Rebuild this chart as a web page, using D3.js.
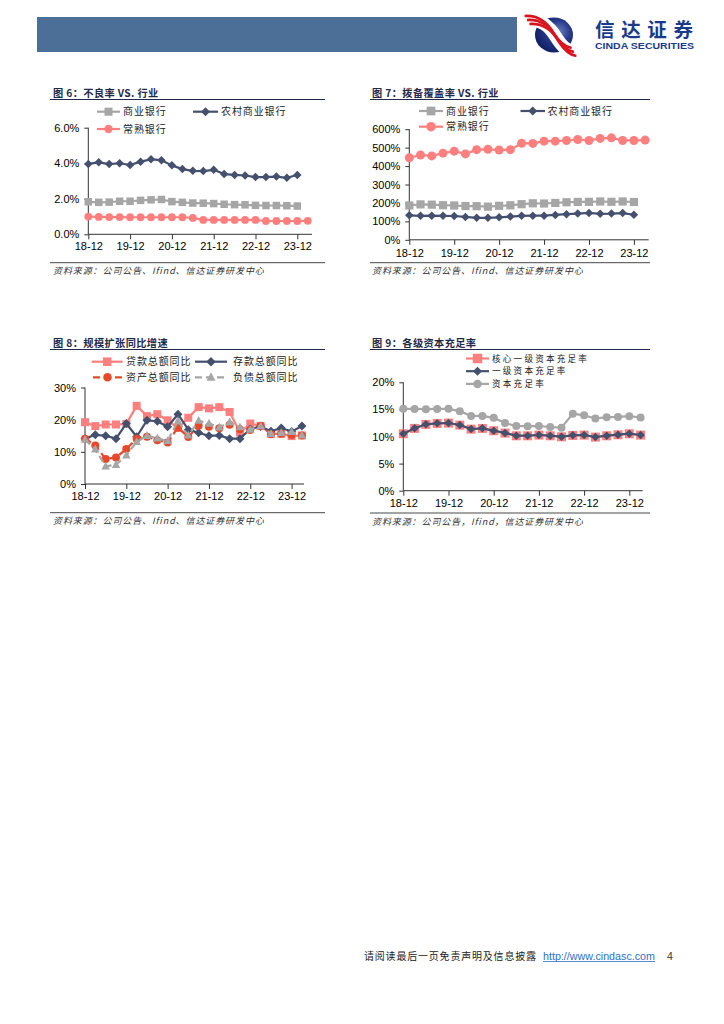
<!DOCTYPE html>
<html><head><meta charset="utf-8">
<script src="https://cdn.jsdelivr.net/npm/d3@7"></script>
<style>
body{margin:0;background:#fff;}
svg{display:block;}
.cjk{font-family:"Noto Sans CJK SC","Noto Sans",sans-serif;}
.num{font-family:"Liberation Sans",Arial,sans-serif;}
</style>
</head><body>
<svg id="c" width="724" height="1024"></svg>
<script>
// ---------------- DATA ----------------
const categories = ["18-12","19-03","19-06","19-09","19-12","20-03","20-06","20-09","20-12","21-03","21-06","21-09","21-12","22-03","22-06","22-09","22-12","23-03","23-06","23-09","23-12","24-03"];
const tickLabels = ["18-12","19-12","20-12","21-12","22-12","23-12"];

// 图6 不良率 (%)
const nplCommercial = [1.83,1.80,1.81,1.86,1.86,1.91,1.94,1.96,1.84,1.80,1.76,1.75,1.73,1.69,1.67,1.66,1.63,1.62,1.62,1.61,1.59,null];
const nplRural      = [3.96,4.05,3.95,4.00,3.90,4.09,4.22,4.17,3.88,3.67,3.57,3.56,3.63,3.39,3.34,3.31,3.22,3.22,3.25,3.18,3.34,null];
const nplChangshu   = [1.00,0.98,0.97,0.97,0.96,0.96,0.96,0.96,0.96,0.96,0.92,0.81,0.81,0.81,0.81,0.81,0.81,0.75,0.75,0.75,0.75,0.76];
const nplTicks = [0,2,4,6];

// 图7 拨备覆盖率 (%)
const pcrCommercial = [186.3,192.2,190.6,187.6,186.1,183.2,182.4,179.9,184.5,187.1,193.2,197.9,196.9,199.9,203.8,205.5,205.9,207.9,206.1,207.9,205.1,null];
const pcrRural      = [133,130,131,130,129,124,119,119,122,126,130,131,131,135,139,142,146,141,142,145,136,null];
const pcrChangshu   = [445,460,455,470,481,466,489,491,487,489,524,523,535,535,539,544,539,550,553,539,539,541];
const pcrTicks = [0,100,200,300,400,500,600];

// 图8 规模扩张同比增速 (%)
const loanYoY      = [19.2,18.0,18.5,18.5,18.7,24.3,21.1,21.7,19.8,17.4,20.6,23.9,23.5,23.9,22.4,16.0,18.8,18.0,15.6,15.6,14.9,15.1];
const depositYoY   = [14.1,15.3,15.0,14.1,18.8,14.7,19.8,19.5,17.8,21.7,16.9,15.9,15.0,15.1,14.1,14.1,17.1,17.9,16.4,17.4,16.3,18.0];
const assetYoY     = [14.1,12.0,7.8,8.2,10.9,14.1,14.7,13.6,12.9,17.6,14.6,18.1,17.8,17.3,18.4,17.0,16.8,18.1,15.5,15.6,15.2,15.1];
const liabilityYoY = [13.8,10.8,5.5,6.0,8.9,13.1,15.0,14.2,13.4,19.6,15.1,19.7,18.8,17.6,19.2,17.7,16.9,18.0,15.6,15.9,16.2,15.1];
const growthTicks = [0,10,20,30];

// 图9 各级资本充足率 (%)
const coreTier1 = [10.50,11.49,12.23,12.41,12.47,12.10,11.36,11.49,11.06,10.63,10.13,10.13,10.26,10.13,9.95,10.20,10.26,9.89,10.13,10.32,10.50,10.26];
const tier1     = [10.52,11.51,12.25,12.43,12.49,12.12,11.38,11.51,11.08,10.65,10.15,10.15,10.28,10.15,9.97,10.22,10.28,9.91,10.15,10.34,10.52,10.28];
const capital   = [15.10,15.08,15.05,15.08,15.10,14.68,13.78,13.80,13.45,12.47,11.94,11.90,11.94,11.75,11.63,14.22,13.91,13.33,13.55,13.62,13.75,13.50];
const carTicks = [0,5,10,15,20];

// ---------------- STYLE ----------------
const GRAY = "#A6A6A6", NAVY = "#44506E", PINK = "#FF7F7F", ORANGE = "#E8482A";

const svg = d3.select("#c");
svg.append("rect").attr("width",724).attr("height",1024).attr("fill","#fff");

// header band
svg.append("rect").attr("x",37).attr("y",17).attr("width",480).attr("height",35).attr("fill","#4C6F97");

// logo
const defs = svg.append("defs");
const rg = defs.append("radialGradient").attr("id","sphere").attr("cx","62%").attr("cy","40%").attr("r","70%");
rg.append("stop").attr("offset","0%").attr("stop-color","#6a7fc0");
rg.append("stop").attr("offset","45%").attr("stop-color","#25398a");
rg.append("stop").attr("offset","100%").attr("stop-color","#0c1a5a");
const logo = svg.append("g").attr("transform","translate(554,35)");
logo.append("ellipse").attr("rx",19).attr("ry",17.5).attr("fill","url(#sphere)");
const rib = "M-27,-15 C-12,-16 -4,-8 2,2 C7,10 12,16 20,17";
logo.append("path").attr("d",rib).attr("fill","none").attr("stroke","#fff").attr("stroke-width",13);
[-4,0,4].forEach(o=>{
  logo.append("path").attr("d",rib).attr("transform",`translate(${o*0.6},${o})`)
    .attr("fill","none").attr("stroke","#D8141E").attr("stroke-width",2.6);
});
svg.append("text").attr("class","cjk").attr("x",595).attr("y",36.5).attr("font-size",19.5).attr("font-weight","bold")
  .attr("fill","#1B3A8C").attr("textLength",98).attr("lengthAdjust","spacing").text("信达证券");
svg.append("text").attr("class","num").attr("x",595).attr("y",49).attr("font-size",8.3).attr("font-weight","bold")
  .attr("fill","#1B3A8C").attr("textLength",99).attr("lengthAdjust","spacingAndGlyphs").text("CINDA SECURITIES");

// ---------------- HELPERS ----------------
function drawMarker(g, type, size, color, cx, cy){
  if(type==="square"){
    g.append("rect").attr("x",cx-size/2).attr("y",cy-size/2).attr("width",size).attr("height",size).attr("fill",color);
  } else if(type==="diamond"){
    const r=size/2;
    g.append("path").attr("d",`M${cx},${cy-r}L${cx+r},${cy}L${cx},${cy+r}L${cx-r},${cy}Z`).attr("fill",color);
  } else if(type==="circle"){
    g.append("circle").attr("cx",cx).attr("cy",cy).attr("r",size/2).attr("fill",color);
  } else if(type==="triangle"){
    const r=size/2;
    g.append("path").attr("d",`M${cx},${cy-r*1.1}L${cx+r},${cy+r*0.75}L${cx-r},${cy+r*0.75}Z`).attr("fill",color);
  }
}

function drawChart(cfg){
  const g = svg.append("g");
  const x = d3.scalePoint().domain(categories).range([cfg.x0, cfg.x0 + cfg.dx*(categories.length-1)]);
  const y = d3.scaleLinear().domain([0, cfg.yMax]).range([cfg.yBot, cfg.yTop]);

  // title & underline
  g.append("text").attr("class","cjk").attr("x",cfg.tx).attr("y",cfg.ty).attr("font-size",10.2)
    .attr("font-weight","bold").attr("fill","#1F2A4A").attr("letter-spacing",0.4).text(cfg.title);
  g.append("line").attr("x1",cfg.bx0).attr("x2",cfg.bx1).attr("y1",cfg.ulY).attr("y2",cfg.ulY)
    .attr("stroke","#1F2A4A").attr("stroke-width",1.1);

  // axes
  const ya = d3.axisLeft(y).tickValues(cfg.yTicks).tickFormat(cfg.fmt).tickSize(4).tickSizeOuter(0).tickPadding(5);
  const yg = g.append("g").attr("transform",`translate(${cfg.x0},0)`).call(ya);
  const xa = d3.axisBottom(x).tickValues(tickLabels).tickSize(5).tickSizeOuter(0).tickPadding(cfg.xPad);
  const xg = g.append("g").attr("transform",`translate(0,${cfg.yBot})`).call(xa);
  [yg,xg].forEach(a=>{
    a.select(".domain").remove();
    a.selectAll("line").attr("stroke","#333").attr("stroke-width",1);
    a.selectAll("text").attr("class","num").attr("font-size",11).attr("fill","#000");
  });
  g.append("line").attr("x1",cfg.x0).attr("x2",cfg.x0).attr("y1",cfg.yBot).attr("y2",cfg.yTop).attr("stroke","#333");
  g.append("line").attr("x1",cfg.x0).attr("x2",cfg.xEnd).attr("y1",cfg.yBot).attr("y2",cfg.yBot).attr("stroke","#333");

  // series
  cfg.series.forEach(s=>{
    const line = d3.line().defined(d=>d!=null).x((d,i)=>x(categories[i])).y(d=>y(d));
    g.append("path").datum(s.data).attr("d",line).attr("fill","none").attr("stroke",s.color)
      .attr("stroke-width",2.2).attr("stroke-dasharray",s.dash||null).attr("stroke-linejoin","round");
    const mg = g.append("g");
    s.data.forEach((d,i)=>{ if(d!=null) drawMarker(mg, s.marker, s.size, s.color, x(categories[i]), y(d)); });
  });

  // legend
  const lfs = cfg.legendFont || 10, lls = cfg.legendSpacing || 0.9;
  cfg.legend.forEach(l=>{
    const s = cfg.series[l.i];
    g.append("line").attr("x1",l.x0).attr("x2",l.x1).attr("y1",l.y).attr("y2",l.y)
      .attr("stroke",s.color).attr("stroke-width",2.2).attr("stroke-dasharray",s.dash||null);
    drawMarker(g, s.marker, s.size+0.5, s.color, (l.x0+l.x1)/2, l.y);
    g.append("text").attr("class","cjk").attr("x",l.tx).attr("y",l.y+lfs*0.36).attr("font-size",lfs)
      .attr("letter-spacing",lls).attr("fill","#222").text(s.name);
  });

  // source
  g.append("line").attr("x1",cfg.bx0).attr("x2",cfg.bx1).attr("y1",cfg.srcY).attr("y2",cfg.srcY)
    .attr("stroke","#333").attr("stroke-width",0.9);
  g.append("text").attr("class","cjk").attr("x",cfg.tx).attr("y",cfg.srcY+11.5).attr("font-size",9)
    .attr("font-style","italic").attr("letter-spacing",0.9).attr("fill","#333").text(cfg.source);
}

const fmt1 = d=>d.toFixed(1)+"%";
const fmt0 = d=>d+"%";

drawChart({
  title:"图 6：不良率 VS. 行业", tx:53, ty:96.6, ulY:99.5, bx0:50, bx1:325,
  x0:88.3, dx:10.45, xEnd:312, yTop:127.7, yBot:234.3, yMax:6, yTicks:nplTicks, fmt:fmt1, xPad:2.6,
  srcY:262.7, source:"资料来源：公司公告、Ifind、信达证券研发中心",
  series:[
    {name:"商业银行", data:nplCommercial, color:GRAY, marker:"square", size:7.5},
    {name:"农村商业银行", data:nplRural, color:NAVY, marker:"diamond", size:8.5},
    {name:"常熟银行", data:nplChangshu, color:PINK, marker:"circle", size:7.8}
  ],
  legend:[{i:0,x0:97,x1:120,y:111.7,tx:123},{i:1,x0:193,x1:218,y:111.7,tx:221},{i:2,x0:97,x1:120,y:129,tx:123}]
});

drawChart({
  title:"图 7：拨备覆盖率 VS. 行业", tx:372, ty:96.6, ulY:99.5, bx0:370, bx1:650,
  x0:409.3, dx:11.23, xEnd:648.7, yTop:129.2, yBot:239.8, yMax:600, yTicks:pcrTicks, fmt:fmt0, xPad:4.4,
  srcY:262.7, source:"资料来源：公司公告、Ifind、信达证券研发中心",
  series:[
    {name:"商业银行", data:pcrCommercial, color:GRAY, marker:"square", size:8.2},
    {name:"农村商业银行", data:pcrRural, color:NAVY, marker:"diamond", size:8.5},
    {name:"常熟银行", data:pcrChangshu, color:PINK, marker:"circle", size:9}
  ],
  legend:[{i:0,x0:419,x1:443,y:111,tx:446},{i:1,x0:520.5,x1:545,y:111,tx:547.5},{i:2,x0:419,x1:443,y:126.7,tx:446}]
});

drawChart({
  title:"图 8：规模扩张同比增速", tx:53, ty:347.2, ulY:349.5, bx0:50, bx1:325,
  x0:85, dx:10.33, xEnd:304, yTop:387.5, yBot:484, yMax:30, yTicks:growthTicks, fmt:fmt0, xPad:2.8,
  srcY:512.7, source:"资料来源：公司公告、Ifind、信达证券研发中心",
  series:[
    {name:"贷款总额同比", data:loanYoY, color:PINK, marker:"square", size:8},
    {name:"存款总额同比", data:depositYoY, color:NAVY, marker:"diamond", size:9},
    {name:"资产总额同比", data:assetYoY, color:ORANGE, marker:"circle", size:8, dash:"7,4"},
    {name:"负债总额同比", data:liabilityYoY, color:GRAY, marker:"triangle", size:8.5, dash:"7,4"}
  ],
  legend:[{i:0,x0:91.7,x1:122.7,y:361.7,tx:126},{i:1,x0:195,x1:227,y:361.7,tx:233},
          {i:2,x0:93,x1:122,y:377.3,tx:126},{i:3,x0:195,x1:227,y:377.3,tx:233}]
});

drawChart({
  title:"图 9：各级资本充足率", tx:372, ty:347.2, ulY:349.5, bx0:370, bx1:650,
  x0:403.3, dx:11.3, xEnd:642.7, yTop:382.3, yBot:490.7, yMax:20, yTicks:carTicks, fmt:fmt0, xPad:3.6,
  srcY:513, source:"资料来源：公司公告，Ifind，信达证券研发中心",
  legendFont:8.6, legendSpacing:2.2,
  series:[
    {name:"核心一级资本充足率", data:coreTier1, color:PINK, marker:"square", size:9},
    {name:"一级资本充足率", data:tier1, color:NAVY, marker:"diamond", size:8.5},
    {name:"资本充足率", data:capital, color:GRAY, marker:"circle", size:8}
  ],
  legend:[{i:0,x0:466,x1:489,y:358.5,tx:492},{i:1,x0:466,x1:489,y:371.2,tx:492},{i:2,x0:466,x1:489,y:383.9,tx:492}]
});

// footer
svg.append("text").attr("class","cjk").attr("x",364).attr("y",959.5).attr("font-size",10)
  .attr("letter-spacing",0.8).attr("fill","#222").text("请阅读最后一页免责声明及信息披露");
svg.append("text").attr("class","num").attr("x",543).attr("y",959.5).attr("font-size",10.5)
  .attr("fill","#2F6FCC").attr("textLength",112).attr("lengthAdjust","spacingAndGlyphs").text("http://www.cindasc.com");
svg.append("line").attr("x1",543).attr("x2",655).attr("y1",961.5).attr("y2",961.5).attr("stroke","#2F6FCC").attr("stroke-width",0.8);
svg.append("text").attr("class","num").attr("x",667).attr("y",959.5).attr("font-size",10.5).attr("fill","#333").text("4");
</script>
</body></html>
